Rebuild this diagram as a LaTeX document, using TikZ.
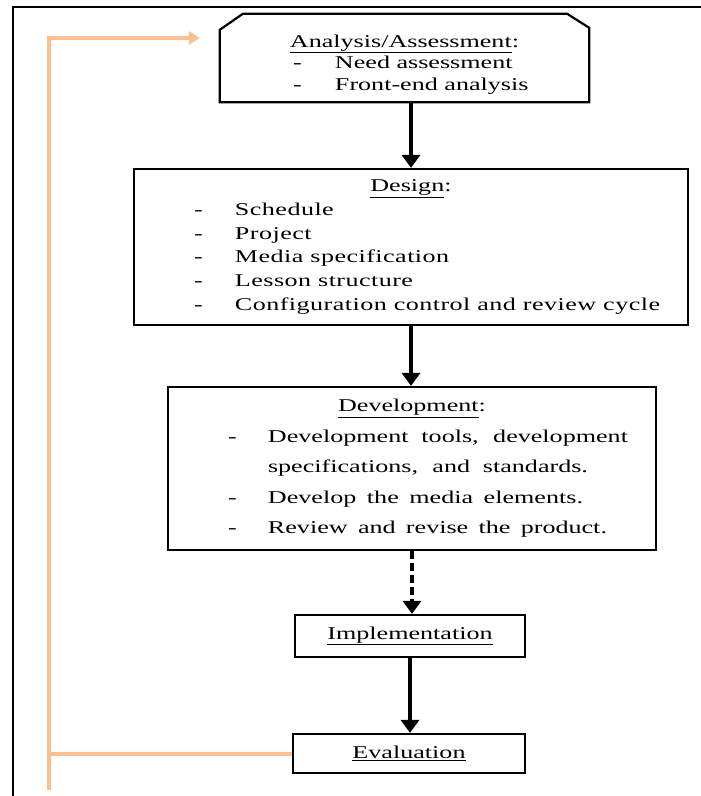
\documentclass[tikz,border=0pt]{standalone}
\usepackage{fontspec}
\setmainfont{Liberation Serif}[FakeStretch=1.45]
\newfontfamily\spacedfont{Liberation Serif}[FakeStretch=1.45,LetterSpace=2.5]
\usetikzlibrary{arrows.meta}
\definecolor{loopcolor}{RGB}{250,192,143}
\tikzset{
  box/.style={draw, line width=2.2pt, inner sep=0pt},
  flow/.style={line width=4.5pt, -{Triangle[width=18pt,length=13pt]}},
  feedback/.style={draw=loopcolor, line width=4pt},
}

\begin{document}
\begin{tikzpicture}[x=1pt, y=-1pt]
  \useasboundingbox (0,0) rectangle (701,796);

  % page frame
  \draw[line width=2pt] (13,796) -- (13,7) -- (701,7);

  \node[
    inner sep=0pt,
    minimum width=369pt,
    minimum height=88pt,
    name=anal
  ] at (404.5,58) {%
    \begin{minipage}{369pt}
      \fontsize{18}{21.5}\selectfont
      \vspace*{13pt}
      \centering\underline{Analysis/Assessment}:\par
      \raggedright
      \hspace*{73pt}\makebox[42pt][l]{-}Need assessment\\
      \hspace*{73pt}\makebox[42pt][l]{-}Front-end analysis
    \end{minipage}};
  \draw[line width=2.2pt] ([yshift=-16pt]anal.north west) -- ([xshift=23pt]anal.north west)
    -- ([xshift=-22pt]anal.north east) -- ([yshift=-14pt]anal.north east)
    -- (anal.south east) -- (anal.south west) -- cycle;

  \node[
    box,
    minimum width=554pt,
    minimum height=156pt,
    name=design
  ] at (411,247) {%
    \begin{minipage}{554pt}
      \fontsize{18}{23.7}\selectfont
      \centering\underline{Design}:\par
      \raggedright\spacedfont
      \hspace*{60pt}\makebox[41pt][l]{-}Schedule\\
      \hspace*{60pt}\makebox[41pt][l]{-}Project\\
      \hspace*{60pt}\makebox[41pt][l]{-}Media specification\\
      \hspace*{60pt}\makebox[41pt][l]{-}Lesson structure\\
      \hspace*{60pt}\makebox[41pt][l]{-}Configuration control and review cycle
    \end{minipage}};

  \node[
    box,
    minimum width=488pt,
    minimum height=163pt,
    name=dev
  ] at (412,468.5) {%
    \begin{minipage}{488pt}
      \fontsize{18}{30.5}\selectfont
      \centering\underline{Development}:\par
      \raggedright
      \hspace*{60pt}\makebox[40pt][l]{-}\makebox[360pt][s]{Development tools, development}\\
      \hspace*{100pt}\makebox[320pt][s]{specifications, and standards.}\\
      \hspace*{60pt}\makebox[40pt][l]{-}\makebox[315pt][s]{Develop the media elements.}\\
      \hspace*{60pt}\makebox[40pt][l]{-}\makebox[339pt][s]{Review and revise the product.}
    \end{minipage}};

  \node[
    box,
    minimum width=230pt,
    minimum height=42pt,
    font=\fontsize{18}{22}\selectfont,
    name=impl
  ] at (410,636) {\underline{Implementation}};

  \node[
    box,
    minimum width=232pt,
    minimum height=39pt,
    font=\fontsize{18}{22}\selectfont,
    name=eval
  ] at (409,753.5) {\underline{Evaluation}};

  \draw[flow] (anal.south -| design.north) -- (design.north);
  \draw[flow] (design.south) -- (design.south |- dev.north);
  \draw[flow, dash pattern=on 8pt off 4pt] (dev.south) -- (dev.south |- impl.north);
  \draw[flow] (impl.south) -- (impl.south |- eval.north);

  % feedback loop
  \coordinate (loopTop) at (49,38);
  \coordinate (loopEnd) at (49,790);
  \draw[feedback] (eval.west) -- (eval.west -| loopEnd);
  \draw[feedback, -{Triangle[width=13pt,length=11pt]}] (loopEnd) -- (loopTop)
    -- ([xshift=-20pt]anal.west |- loopTop);
\end{tikzpicture}
\end{document}
